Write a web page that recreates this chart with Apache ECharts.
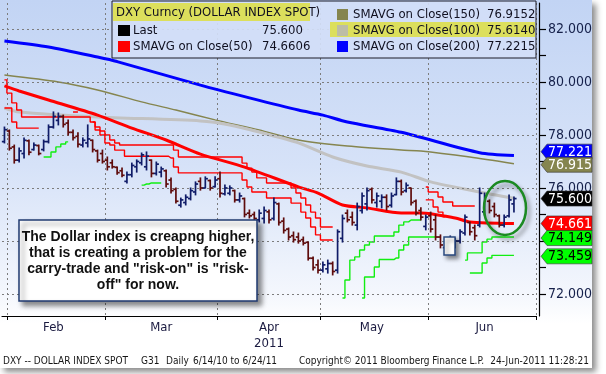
<!DOCTYPE html>
<html><head><meta charset="utf-8">
<script src="https://cdn.jsdelivr.net/npm/echarts@6/dist/echarts.min.js"></script>
<style>html,body{margin:0;padding:0;background:#fff}#c{width:606px;height:374px}</style>
</head><body><div id="c"></div><script>
// ---------- DATA ----------
// categories: every weekday from 31-Jan-2011 to 30-Jun-2011
const categories = [];
for (let d = new Date(Date.UTC(2011,0,31)); d <= new Date(Date.UTC(2011,5,30)); d.setUTCDate(d.getUTCDate()+1)) {
  const w = d.getUTCDay(); if (w === 0 || w === 6) continue;
  categories.push(d.toISOString().slice(0,10));
}
const monthLabels = ['Feb','Mar','Apr','May','Jun'];
const monthLabelIdx = [10, 32, 54, 75, 98];
const yearLabel = '2011';
const yTickValues = [72,73,74,75,76,77,78,79,80,81,82];
const yLabelValues = [72,74,76,78,80,82];

// OHLC: [open, high, low, close]
const ohlc = [
[77.75,78.30,77.70,78.20],[78.15,78.19,77.43,77.50],[77.55,77.62,76.94,77.05],[77.05,77.51,76.98,77.40],
[77.30,77.89,77.13,77.80],[77.78,77.81,77.25,77.35],[77.45,77.70,77.43,77.62],[77.60,77.62,77.25,77.30],
[77.45,77.81,77.40,77.75],[77.75,78.38,77.70,78.30],[78.30,78.87,78.26,78.70],[78.55,78.83,78.38,78.70],
[78.70,78.75,78.30,78.40],[78.45,78.57,78.00,78.10],[78.10,78.19,77.81,77.90],[77.95,78.08,77.55,77.65],
[77.62,77.89,77.55,77.80],[77.70,78.38,77.55,77.85],[77.80,77.81,77.36,77.45],[77.40,77.43,76.98,77.05],
[77.30,77.43,76.94,77.00],[77.05,77.17,76.68,76.80],[76.95,77.06,76.75,76.80],[76.78,76.79,76.52,76.58],
[76.65,76.75,76.42,76.48],[76.25,76.60,76.19,76.50],[76.50,76.94,76.42,76.85],[76.80,77.06,76.60,77.00],
[76.95,77.32,76.87,77.25],[76.80,77.36,76.68,77.20],[77.05,77.06,76.42,76.55],[76.55,76.98,76.49,76.90],
[76.60,76.79,76.42,76.72],[76.65,76.68,76.04,76.15],[76.30,76.38,75.81,75.90],[75.95,76.00,75.43,75.50],
[75.35,75.62,75.28,75.55],[75.45,75.74,75.36,75.65],[75.60,76.00,75.55,75.90],[75.85,76.23,75.74,76.15],
[76.25,76.38,75.92,76.00],[76.00,76.42,76.00,76.35],[76.28,76.30,75.92,76.00],[76.05,76.42,76.04,76.30],
[76.35,76.60,75.66,75.80],[75.78,76.11,75.74,76.00],[75.80,76.08,75.74,76.00],[75.90,75.92,75.47,75.55],
[75.55,75.81,75.47,75.70],[75.60,75.62,74.91,75.00],[75.05,75.17,74.87,74.95],[75.00,75.09,74.79,74.85],
[74.80,75.17,74.72,75.05],[74.85,75.28,74.68,75.15],[75.10,75.17,74.68,74.80],[74.85,75.62,74.79,75.45],
[75.40,75.43,74.60,74.70],[74.75,74.87,74.30,74.40],[74.45,74.49,74.04,74.15],[74.20,74.34,73.96,74.05],
[74.15,74.30,73.92,74.00],[74.05,74.15,73.85,73.92],[73.95,73.96,73.28,73.35],[73.35,73.40,72.91,73.00],
[73.10,73.28,72.79,72.90],[72.90,73.21,72.83,73.10],[72.95,73.28,72.79,73.15],[73.15,73.21,72.72,72.85],
[72.90,74.42,72.79,74.35],[74.10,74.98,73.96,74.85],[75.05,75.17,74.72,74.80],[74.90,75.09,74.60,74.70],
[74.60,75.43,74.42,75.30],[75.15,75.81,75.06,75.70],[75.40,76.00,75.17,75.90],[75.95,76.00,75.43,75.55],
[75.45,75.81,75.28,75.70],[75.50,75.74,75.25,75.65],[75.65,75.74,75.17,75.30],[75.35,75.81,75.28,75.70],
[75.75,76.38,75.74,76.25],[76.25,76.30,75.74,75.85],[75.90,76.19,75.85,76.10],[76.00,76.00,75.36,75.45],
[75.50,75.55,74.98,75.05],[75.15,75.25,74.79,74.90],[74.55,74.98,74.42,74.90],[74.95,75.09,74.34,74.45],
[74.80,74.98,74.04,74.15],[74.15,74.23,73.74,73.85],[73.75,74.11,73.59,73.95],[73.80,74.19,73.66,74.05],
[73.85,74.11,73.74,74.00],[74.00,74.42,73.92,74.35],[74.30,74.98,74.23,74.90],[74.70,74.72,74.23,74.35],
[74.50,74.60,74.04,74.20],[74.60,76.00,74.53,75.80],[75.10,75.81,74.98,75.70],[75.50,75.55,75.06,75.15],
[75.30,75.43,74.91,75.00],[74.95,74.98,74.53,74.60],[74.60,74.98,74.53,74.90],[74.95,75.74,74.91,75.55],
[75.40,75.66,75.09,75.60]
];

// moving averages: [category index, value]
const sma50 = [[0,79.85],[3,79.66],[9,79.32],[19,78.75],[26,78.26],[33,77.81],[40,77.28],[49,76.79],[60,76.04],[64,75.81],[69,75.36],[74,75.25],[81,75.06],[85,75.06],[92,74.87],[95,74.72],[104,74.6606]];
const sma100 = [[0,79.02],[3,78.87],[19,78.68],[40,78.53],[46,78.38],[52,78.11],[60,77.70],[67,77.17],[74,76.83],[81,76.60],[87,76.23],[97,75.85],[104,75.614]];
const sma150 = [[0,80.26],[11,80.00],[19,79.70],[28,79.25],[35,78.94],[43,78.57],[52,78.19],[60,77.81],[70,77.58],[81,77.43],[85,77.40],[95,77.17],[104,76.9152]];
const sma200 = [[0,81.55],[9,81.32],[19,80.94],[23,80.77],[40,79.88],[50,79.40],[60,78.94],[65,78.75],[70,78.49],[81,78.10],[97,77.33],[104,77.2215]];

// step bands: start index + values
const redUpperA = {start:0, values:[80.08,79.58,79.21,78.94,78.68,78.68,78.68,78.68,78.68,78.68,78.68,78.68,78.68,78.68,78.68,78.68,78.68,78.68,
  78.49,78.30,78.15,78.00,77.81,77.70,77.62,77.62,77.62,77.62,77.62,77.62,77.62,77.62,77.62,77.62,77.62,77.43,
  77.17,77.17,77.17,77.17,77.17,77.17,77.17,77.17,77.17,77.17,77.17,77.17,77.17,76.94,76.75,76.60,76.38,76.38,
  76.19,76.19,76.19,76.19,76.19,76.00,75.81,75.62,75.36,75.09,74.87,74.53,74.53,74.53]};
const redLowerA = {start:0, values:[79.02,79.02,78.49,78.26,78.26,78.26,78.26,78.26]};
const redSmall = {start:14, values:[78.87,78.87]};
const redLowerB = {start:18, values:[78.49,78.19,78.00,77.70,77.62,77.43,77.43,77.20,77.20,77.20,77.20,77.20,77.20,77.20,77.20,77.20,77.13,76.79,
  76.57,76.57,76.57,76.57,76.57,76.57,76.57,76.57,76.57,76.57,76.57,76.57,76.57,76.30,76.04,75.85,75.85,75.85,
  75.62,75.62,75.62,75.62,75.62,75.43,75.43,75.09,74.87,74.53,74.23,74.04,74.04,74.04]};
const redUpperJ = {start:86, values:[76.04,75.85,75.85,75.66,75.47,75.47,75.32,75.32,75.32,75.32,75.32]};
const redLowerJ = {start:86, values:[75.55,75.55,75.28,75.09,74.91]};
const greenA = {start:8, values:[77.17,77.17,77.36,77.55,77.66,77.74]};
const greenB = {start:28, values:[76.11,76.15,76.19,76.19,76.19]};
const greenUpperC = {start:69, values:[71.85,72.53,73.28,73.40,73.66,73.85,73.96,74.19,74.19,74.19,74.19,74.34,74.60,74.72,74.79,74.79,74.79]};
const greenLowerC = {start:73, values:[71.85,72.64,72.64,73.02,73.30,73.30,73.30,73.36,73.66,73.85,74.15,74.15,74.15,74.15,74.15,74.15]};
const greenUpperD = {start:94, values:[73.28,73.55,73.55,73.55,73.96,74.07,74.149,74.149,74.149,74.149,74.149]};
const greenLowerD = {start:95, values:[72.79,72.79,72.79,73.17,73.36,73.459,73.459,73.459,73.459,73.459]};

const tagValues = [77.221, 76.915, 75.600, 74.661, 74.149, 73.459];
const tagText   = ['77.221','76.915','75.600','74.661','74.149','73.459'];
const legendLeft = [['Last','75.600','#000000'],['SMAVG on Close(50)','74.6606','#ff0000']];
const legendRight = [['SMAVG on Close(150)','76.9152','#85854f'],['SMAVG on Close(100)','75.6140','#bdbda6'],['SMAVG on Close(200)','77.2215','#0000ff']];
const legendTitle = 'DXY Curncy (DOLLAR INDEX SPOT)';
const noteLines = ['The Dollar index is creapng higher,','that is creating a problem for the','carry-trade and "risk-on" is "risk-','off" for now.'];

// ---------- CHART ----------
const FONT = '"DejaVu Sans Condensed", "DejaVu Sans", sans-serif';
const monthStartIdx = categories.map((c,i)=> i>0 && c.slice(5,7)!==categories[i-1].slice(5,7) ? i : -1).filter(i=>i>=0);
const UP = '#101c68', DOWN = '#5e0c0c';
const seg = s => s.values.map((v,k)=>[s.start+k, v]);
function stepSeries(s, color){
  return {type:'line', data:seg(s), step:'middle', symbol:'none', silent:true, z:3,
    lineStyle:{color, width:1.4}};
}
function maSeries(d, color, w, z){
  return {type:'line', data:d, smooth:0.25, symbol:'none', silent:true, z, lineStyle:{color, width:w}};
}
const gridVals = yLabelValues;
const chart = echarts.init(document.getElementById('c'), null, {renderer:'canvas'});
chart.setOption({
  animation:false,
  backgroundColor:'#ffffff',
  grid:{left:2, right:70, top:3, bottom:58},
  xAxis:{type:'category', data:categories, boundaryGap:true,
    axisLine:{lineStyle:{color:'#000', width:1.2}},
    axisTick:{show:true, interval:(i)=>monthStartIdx.includes(i), length:4, lineStyle:{color:'#000'}},
    axisLabel:{interval:(i)=>monthLabelIdx.includes(i),
      formatter:(v,i)=>{const k=monthLabelIdx.indexOf(i); if(k<0) return ''; return monthLabels[k]+(monthLabels[k]==='Apr'?'\n'+yearLabel:'');},
      color:'#1a1a40', fontSize:13, fontFamily:FONT, margin:4, lineHeight:16},
    splitLine:{show:true, interval:(i)=>monthStartIdx.includes(i), lineStyle:{color:'#7d7d7d', type:[2,3], width:1}}
  },
  yAxis:{type:'value', position:'right', min:71.17, max:82.98, offset:3, scale:true,
    axisLine:{show:true, lineStyle:{color:'#000', width:1.2}},
    axisTick:{show:true, customValues:yTickValues, length:7, lineStyle:{color:'#000', width:1.2}},
    axisLabel:{customValues:yLabelValues, formatter:v=>Number(v).toFixed(3), color:'#15204a', fontSize:14, fontFamily:FONT, margin:9},
    splitLine:{show:false}
  },
  series:[
    {type:'line', data:[], silent:true, z:1,
     markLine:{silent:true, symbol:'none', label:{show:false}, animation:false,
       lineStyle:{color:'#7d7d7d', type:[2,3], width:1}, data:gridVals.map(v=>({yAxis:v}))}},
    maSeries(sma200,'#0000ff',3,2),
    maSeries(sma150,'#85854f',1.5,2),
    maSeries(sma100,'#c2c2c2',3,2),
    stepSeries(redUpperA,'#ff0000'), stepSeries(redLowerA,'#ff0000'), stepSeries(redSmall,'#ff0000'),
    stepSeries(redLowerB,'#ff0000'), stepSeries(redUpperJ,'#ff0000'), stepSeries(redLowerJ,'#ff0000'),
    stepSeries(greenA,'#11ee11'), stepSeries(greenB,'#11ee11'), stepSeries(greenUpperC,'#11ee11'),
    stepSeries(greenLowerC,'#11ee11'), stepSeries(greenUpperD,'#11ee11'), stepSeries(greenLowerD,'#11ee11'),
    maSeries(sma50,'#ff0000',3,4),
    {type:'custom', z:5, silent:true,
     data: ohlc.map((d,i)=>[i, d[0], d[1], d[2], d[3]]),
     encode:{x:0, y:[1,2,3,4]},
     renderItem:(params, api)=>{
       const i=api.value(0), o=api.value(1), h=api.value(2), l=api.value(3), c=api.value(4);
       const pO=api.coord([i,o]), pH=api.coord([i,h]), pL=api.coord([i,l]), pC=api.coord([i,c]);
       const x=pO[0], col = c>=o?UP:DOWN;
       const st={stroke:col, lineWidth:1.7};
       return {type:'group', children:[
         {type:'line', shape:{x1:x,y1:pH[1]-0.5,x2:x,y2:pL[1]+0.5}, style:st},
         {type:'line', shape:{x1:x-2.6,y1:pO[1],x2:x,y2:pO[1]}, style:st},
         {type:'line', shape:{x1:x,y1:pC[1],x2:x+2.6,y2:pC[1]}, style:st}
       ]};
     }}
  ]
});

// ---------- decorations ----------
const els = [];
els.push({type:'rect', z:-10, silent:true, shape:{x:0,y:0,width:592,height:368},
  style:{fill:{type:'linear',x:0,y:0,x2:0,y2:1,colorStops:[{offset:0,color:'#c2d4f4'},{offset:0.45,color:'#d6e2f8'},{offset:0.8,color:'#f4f7fd'},{offset:0.88,color:'#ffffff'},{offset:1,color:'#ffffff'}]},
  shadowBlur:6, shadowOffsetX:4, shadowOffsetY:4, shadowColor:'rgba(0,0,0,0.45)'}});
// legend box
els.push({type:'rect', z:50, silent:true, shape:{x:112,y:1,width:424,height:57}, style:{fill:'rgba(210,222,247,0.92)', stroke:'#1c1c28', lineWidth:1}});
els.push({type:'rect', z:51, silent:true, shape:{x:113,y:3,width:197,height:18}, style:{fill:'#dcdf5c'}});
els.push({type:'rect', z:51, silent:true, shape:{x:330,y:22,width:205,height:15}, style:{fill:'#dcdf5c'}});
const lf = {fontSize:13, fontFamily:FONT, fill:'#101020', verticalAlign:'middle', align:'left'};
els.push({type:'text', z:52, silent:true, style:Object.assign({text:legendTitle, x:116, y:13}, lf)});
legendLeft.forEach((r,k)=>{
  const y = 31 + k*16;
  els.push({type:'rect', z:52, silent:true, shape:{x:118,y:y-6,width:12,height:11}, style:{fill:r[2]}});
  els.push({type:'text', z:52, silent:true, style:Object.assign({text:r[0], x:133, y:y}, lf)});
  els.push({type:'text', z:52, silent:true, style:Object.assign({text:r[1], x:262, y:y}, lf)});
});
legendRight.forEach((r,k)=>{
  const y = 15 + k*16;
  els.push({type:'rect', z:52, silent:true, shape:{x:337,y:y-6,width:11,height:11}, style:{fill:r[2]}});
  els.push({type:'text', z:52, silent:true, style:Object.assign({text:r[0], x:353, y:y}, lf)});
  els.push({type:'text', z:52, silent:true, style:Object.assign({text:r[1], x:487, y:y}, lf)});
});
// note box
els.push({type:'rect', z:40, silent:true, shape:{x:19,y:220,width:238,height:81},
  style:{fill:'#ffffff', stroke:'#1f3a70', lineWidth:1.5, shadowBlur:5, shadowOffsetX:4, shadowOffsetY:4, shadowColor:'rgba(0,0,0,0.45)'}});
noteLines.forEach((t,k)=>{
  els.push({type:'text', z:41, silent:true, style:{text:t, x:138, y:237+k*16, align:'center', verticalAlign:'middle',
    fontSize:14, fontWeight:'bold', fontFamily:'"Liberation Sans", Arial, sans-serif', fill:'#111'}});
});
// small callout box
els.push({type:'rect', z:40, silent:true, shape:{x:444,y:237,width:11,height:18},
  style:{fill:'#ffffff', stroke:'#2a4a80', lineWidth:1.5, shadowBlur:4, shadowOffsetX:3, shadowOffsetY:3, shadowColor:'rgba(0,0,0,0.45)'}});
// ellipse
els.push({type:'ellipse', z:40, silent:true, shape:{cx:505,cy:208,rx:21,ry:27},
  style:{fill:null, stroke:'#1b8a22', lineWidth:2.5, shadowBlur:4, shadowOffsetX:3, shadowOffsetY:4, shadowColor:'rgba(0,0,0,0.4)'}});
// footer
const ff = {fontSize:10, fontFamily:FONT, fill:'#151515', verticalAlign:'middle'};
[['DXY -- DOLLAR INDEX SPOT',3,'left'],['G31',141,'left'],['Daily',166,'left'],['6/14/10 to 6/24/11',193,'left'],
 ['Copyright\u00a9 2011 Bloomberg Finance L.P.',299,'left'],['24-Jun-2011 11:28:21',589,'right']].forEach(f=>{
  els.push({type:'text', z:30, silent:true, style:Object.assign({text:f[0], x:f[1], y:361, align:f[2]}, ff)});
});
// right axis tags
const tagFill = ['#0000ff','#85854f','#000000','#ff0000','#00ff00','#00ff00'];
const tagInk  = ['#ffffff','#ffffff','#ffffff','#ffffff','#000000','#000000'];
const tagShift = [-4, 1, 0, 0, 1, 1];
tagValues.forEach((v,k)=>{
  const y = chart.convertToPixel({yAxisIndex:0}, v) + tagShift[k];
  els.push({type:'polygon', z:60+k, silent:true, shape:{points:[[541,y],[547,y-7.5],[592,y-7.5],[592,y+7.5],[547,y+7.5]]},
    style:{fill:tagFill[k], stroke:'#333', lineWidth:0.6}});
  els.push({type:'text', z:60+k, silent:true, style:{text:tagText[k], x:548, y:y+0.5, align:'left', verticalAlign:'middle',
    fontSize:14, fontFamily:FONT, fill:tagInk[k]}});
});
chart.setOption({graphic:{elements:els}});
</script></body></html>
